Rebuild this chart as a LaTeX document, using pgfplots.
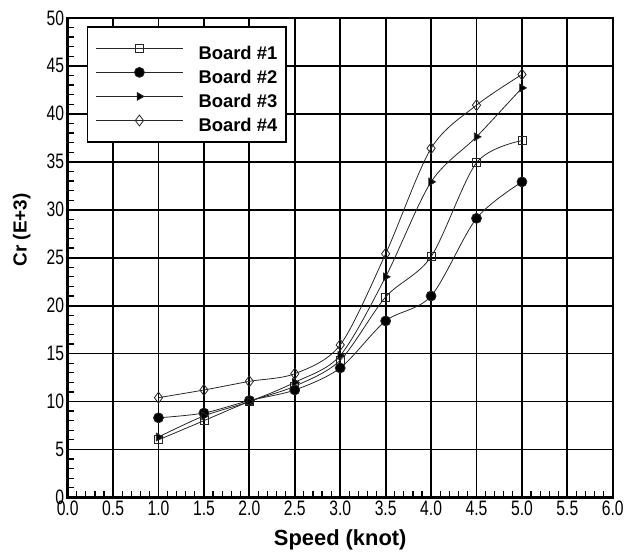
\documentclass[border=0pt]{standalone}
\usepackage{pgfplots}
\pgfplotsset{compat=1.18}
\usepackage{fontspec}
\setmainfont{Liberation Sans}
\newfontfamily\tickfont[FakeStretch=0.75]{Liberation Sans}
\begin{document}
\begin{tikzpicture}
\begin{axis}[
  scale only axis, width=548pt, height=482pt,
  xmin=0, xmax=6, ymin=0, ymax=50,
  xtick={0,0.5,1,1.5,2,2.5,3,3.5,4,4.5,5,5.5,6},
  ytick={0,5,10,15,20,25,30,35,40,45,50},
  minor x tick num=4, minor y tick num=4,
  tick pos=left, tick align=inside,
  major tick length=10pt, minor tick length=6pt,
  every tick/.style={black, line width=1.2pt},
  grid=major, major grid style={black, line width=1.9pt},
  axis line style={line width=2.4pt},
  tick label style={font=\tickfont\fontsize{21}{21}\selectfont},
  /pgf/number format/assume math mode=true,
  xticklabel style={/pgf/number format/.cd, fixed, fixed zerofill, precision=1},
  yticklabel style={/pgf/number format/.cd, fixed, precision=0},
  xlabel={Speed (knot)},
  ylabel={Cr (E+3)},
  xlabel style={at={(axis description cs:0.5,-0.089)}, anchor=center, font=\fontsize{22}{22}\selectfont\bfseries},
  ylabel style={at={(axis description cs:-0.084,0.558)}, anchor=center, font=\fontsize{19}{19}\selectfont\bfseries},
  legend style={at={(axis description cs:0.0347,0.983)}, anchor=north west, draw=black, line width=1.5pt,
    fill=white, font=\fontsize{18.5}{18.5}\selectfont\bfseries, cells={anchor=west},
    inner xsep=8pt, inner ysep=9.6pt, row sep=0.2pt, column sep=14pt,
    nodes={text height=22pt, text depth=0pt, inner sep=1pt}},
  legend image code/.code={\draw[mark repeat=2,mark phase=2,#1] plot coordinates {(0pt,0pt) (44pt,0pt) (88pt,0pt)};},
  every axis plot/.append style={black!85, line width=0.8pt, smooth, tension=0.5},
]
\addplot[mark=square, mark size=4pt, mark options={fill=white, solid, line width=0.8pt}] coordinates {
(1,6.0) (1.5,8.0) (2,10.0) (2.5,11.6) (3,14.3) (3.5,20.9) (4,25.1) (4.5,34.9) (5,37.2)};
\addlegendentry{Board \#1}
\addplot[mark=*, mark size=5pt, mark options={fill=black, solid}] coordinates {
(1,8.3) (1.5,8.8) (2,10.1) (2.5,11.2) (3,13.5) (3.5,18.4) (4,21.0) (4.5,29.1) (5,32.9)};
\addlegendentry{Board \#2}
\addplot[mark=triangle*, mark size=4.5pt, mark options={fill=black, solid, rotate=-90}] coordinates {
(1,6.3) (1.5,8.5) (2,10.0) (2.5,12.0) (3,14.8) (3.5,23.0) (4,32.9) (4.5,37.6) (5,42.7)};
\addlegendentry{Board \#3}
\addplot[mark=diamond, mark size=5.5pt, mark options={fill=white, solid, line width=0.8pt}] coordinates {
(1,10.4) (1.5,11.2) (2,12.1) (2.5,12.9) (3,15.9) (3.5,25.4) (4,36.4) (4.5,40.9) (5,44.1)};
\addlegendentry{Board \#4}
\end{axis}
\path ([xshift=-68pt,yshift=-59pt]current axis.south west) rectangle ([xshift=11pt,yshift=18pt]current axis.north east);
\end{tikzpicture}
\end{document}
